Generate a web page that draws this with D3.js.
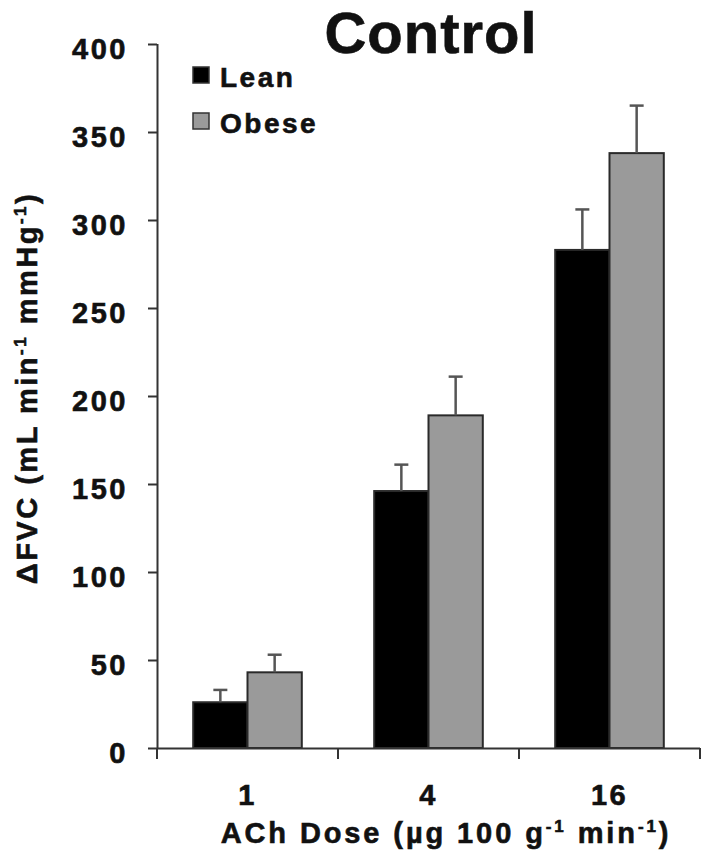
<!DOCTYPE html>
<html>
<head>
  <meta charset="utf-8">
  <title>Control</title>
  <script src="https://d3js.org/d3.v7.min.js"></script>
  <style>
    body { margin: 0; background: #fff; }
    text {
      font-family: "Liberation Sans", Arial, sans-serif;
      font-weight: bold;
      fill: #111;
      stroke: #111;
      stroke-width: 0.6px;
    }
  </style>
</head>
<body>
<div id="chart"></div>
<script>
  // Values
  const doses = ["1", "4", "16"];
  const groups = ["Lean", "Obese"];
  const leanMean = [26, 146, 283];
  const leanErr = [7, 15, 23];
  const obeseMean = [43, 189, 338];
  const obeseErr = [10, 22, 27];
  const yTicks = [0, 50, 100, 150, 200, 250, 300, 350, 400];

  const colors = {Lean: "#000000", Obese: "#9a9a9a"};

  // one row per bar
  const rows = [];
  doses.forEach((d, i) => {
    rows.push({dose: d, group: "Lean", value: leanMean[i], err: leanErr[i]});
    rows.push({dose: d, group: "Obese", value: obeseMean[i], err: obeseErr[i]});
  });

  const W = 708, H = 867;
  const margin = {top: 44, right: 8, bottom: 119, left: 157};
  const width = W - margin.left - margin.right;
  const height = H - margin.top - margin.bottom;

  const svg = d3.select("#chart").append("svg")
    .attr("width", W)
    .attr("height", H);

  const g = svg.append("g")
    .attr("transform", "translate(" + margin.left + "," + margin.top + ")");

  const x = d3.scaleBand()
    .domain(doses)
    .range([0, width])
    .paddingInner(0.4)
    .paddingOuter(0.2);

  const xg = d3.scaleBand()
    .domain(groups)
    .range([0, x.bandwidth()]);

  const y = d3.scaleLinear()
    .domain([0, 400])
    .range([height, 0]);

  // bars
  g.selectAll(".bar")
    .data(rows)
    .enter().append("rect")
    .attr("class", "bar")
    .attr("x", d => x(d.dose) + xg(d.group))
    .attr("y", d => y(d.value))
    .attr("width", xg.bandwidth())
    .attr("height", d => y(0) - y(d.value))
    .attr("fill", d => colors[d.group])
    .attr("stroke", "#2a2a2a")
    .attr("stroke-width", 2);

  // error bars (upper only)
  const eb = g.selectAll(".err")
    .data(rows)
    .enter().append("g")
    .attr("class", "err")
    .attr("stroke", "#555")
    .attr("stroke-width", 2.5);
  eb.append("line")
    .attr("x1", d => x(d.dose) + xg(d.group) + xg.bandwidth() / 2)
    .attr("x2", d => x(d.dose) + xg(d.group) + xg.bandwidth() / 2)
    .attr("y1", d => y(d.value))
    .attr("y2", d => y(d.value + d.err));
  eb.append("line")
    .attr("x1", d => x(d.dose) + xg(d.group) + xg.bandwidth() / 2 - 7)
    .attr("x2", d => x(d.dose) + xg(d.group) + xg.bandwidth() / 2 + 7)
    .attr("y1", d => y(d.value + d.err))
    .attr("y2", d => y(d.value + d.err));

  // y axis
  const yAxis = g.append("g")
    .call(d3.axisLeft(y).tickValues(yTicks).tickSize(9).tickPadding(20));
  yAxis.selectAll("path, line").attr("stroke", "#333").attr("stroke-width", 2);
  yAxis.selectAll("text")
    .attr("dy", "0.5em")
    .style("font-size", "29px")
    .style("letter-spacing", "2.5px")
    .style("font-family", "'Liberation Sans', Arial, sans-serif");
  yAxis.select(".domain").attr("d", "M0.5," + y(400) + "V" + y(0));

  // x axis: labels centred, ticks at the group boundaries
  const xAxis = g.append("g")
    .attr("transform", "translate(0," + height + ")")
    .call(d3.axisBottom(x).tickSize(0).tickPadding(36));
  xAxis.select(".domain").attr("stroke", "#333").attr("stroke-width", 2)
    .attr("d", "M0,0.5H" + width);
  xAxis.selectAll("text")
    .style("font-size", "29px")
    .style("letter-spacing", "2.5px")
    .style("font-family", "'Liberation Sans', Arial, sans-serif");
  const bounds = d3.range(doses.length + 1).map(i => x.step() * i);
  xAxis.selectAll(".bound")
    .data(bounds)
    .enter().append("line")
    .attr("class", "bound")
    .attr("x1", d => d).attr("x2", d => d)
    .attr("y1", 0).attr("y2", 11)
    .attr("stroke", "#333").attr("stroke-width", 2);

  // axis titles
  const xt = svg.append("text")
    .attr("x", 446)
    .attr("y", 843)
    .attr("text-anchor", "middle")
    .style("font-size", "29px")
    .style("letter-spacing", "2.9px");
  xt.append("tspan").text("ACh Dose (µg 100 g");
  xt.append("tspan").attr("dy", -11).style("font-size", "17px").text("-1");
  xt.append("tspan").attr("dy", 11).text(" min");
  xt.append("tspan").attr("dy", -11).style("font-size", "17px").text("-1");
  xt.append("tspan").attr("dy", 11).text(")");

  const yt = svg.append("text")
    .attr("transform", "translate(37," + 388 + ") rotate(-90)")
    .attr("text-anchor", "middle")
    .style("font-size", "29px")
    .style("letter-spacing", "2.5px");
  yt.append("tspan").text("ΔFVC (mL min");
  yt.append("tspan").attr("dy", -11).style("font-size", "17px").text("-1");
  yt.append("tspan").attr("dy", 11).text(" mmHg");
  yt.append("tspan").attr("dy", -11).style("font-size", "17px").text("-1");
  yt.append("tspan").attr("dy", 11).text(")");

  // title
  svg.append("text")
    .attr("x", 431)
    .attr("y", 53)
    .attr("text-anchor", "middle")
    .style("font-size", "58px")
    .style("letter-spacing", "1px")
    .text("Control");

  // legend
  const legend = svg.append("g").attr("transform", "translate(193,67)");
  const li = legend.selectAll(".li")
    .data(groups)
    .enter().append("g")
    .attr("class", "li")
    .attr("transform", (d, i) => "translate(0," + i * 46 + ")");
  li.append("rect")
    .attr("width", 16).attr("height", 16)
    .attr("fill", d => colors[d])
    .attr("stroke", "#333").attr("stroke-width", 1.5);
  li.append("text")
    .attr("x", 27)
    .attr("y", 20)
    .style("font-size", "28px")
    .style("letter-spacing", "2.5px")
    .text(d => d);
</script>
</body>
</html>
